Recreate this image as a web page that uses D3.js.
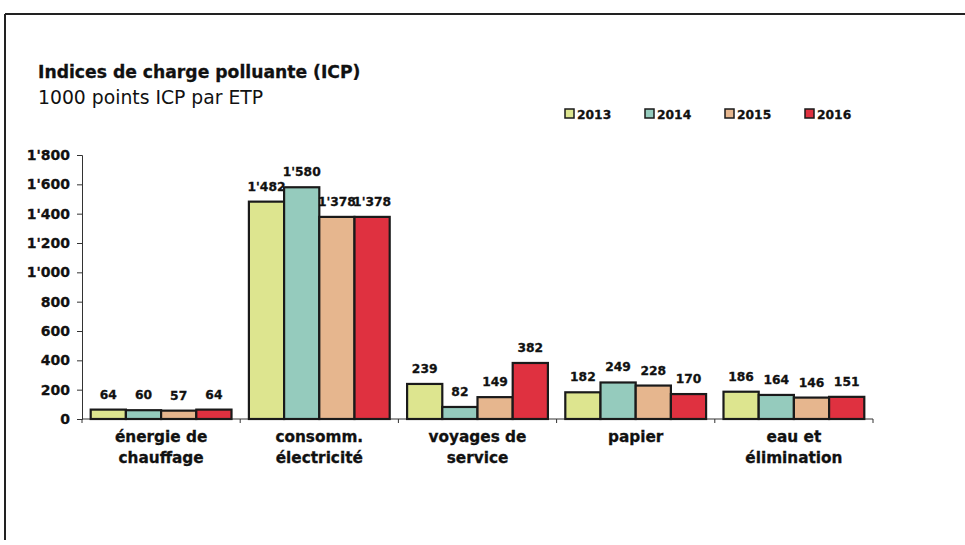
<!DOCTYPE html>
<html>
<head>
<meta charset="utf-8">
<script src="https://cdn.jsdelivr.net/npm/d3@7"></script>
<style>
  body { margin: 0; background: #fff; }
  svg text { font-family: "DejaVu Sans", "Liberation Sans", Arial, sans-serif; fill: #111; }
  svg text.heavy { font-weight: bold; stroke: #111; stroke-width: 0.3px; }
</style>
</head>
<body>
<svg id="chart"></svg>
<script>
// Data
const categories = [["énergie de", "chauffage"], ["consomm.", "électricité"], ["voyages de", "service"], ["papier"], ["eau et", "élimination"]];
const years = ["2013", "2014", "2015", "2016"];
const values2013 = [64, 1482, 239, 182, 186];
const values2014 = [60, 1580, 82, 249, 164];
const values2015 = [57, 1378, 149, 228, 146];
const values2016 = [64, 1378, 382, 170, 151];
const yTicks = [0, 200, 400, 600, 800, 1000, 1200, 1400, 1600, 1800];
const colors = ["#dde58f", "#95cbbd", "#e6b68e", "#df3140"];

const series = [values2013, values2014, values2015, values2016];

const width = 965;
const height = 545;

const svg = d3.select("#chart")
    .attr("width", width)
    .attr("height", height);

// frame lines (top and left)
svg.append("line").attr("x1", 5).attr("x2", 965).attr("y1", 14).attr("y2", 14)
    .attr("stroke", "#222").attr("stroke-width", 2);
svg.append("line").attr("x1", 5).attr("x2", 5).attr("y1", 14).attr("y2", 540)
    .attr("stroke", "#222").attr("stroke-width", 2);

// titles
svg.append("text").attr("class", "heavy").attr("x", 38).attr("y", 78)
    .style("font-size", "17.2px")
    .text("Indices de charge polluante (ICP)");
svg.append("text").attr("x", 38).attr("y", 104)
    .style("font-size", "18.8px")
    .text("1000 points ICP par ETP");

// scales
const x = d3.scaleBand()
    .domain(d3.range(categories.length))
    .range([82, 873])
    .paddingInner(0.11)
    .paddingOuter(0.055);

const x1 = d3.scaleBand()
    .domain(years)
    .range([0, x.bandwidth()]);

const y = d3.scaleLinear()
    .domain([0, 1800])
    .range([419, 155]);

const fmt = d3.formatLocale({ decimal: ".", thousands: "'", grouping: [3], currency: ["", ""] }).format(",");

// y axis
const yAxis = svg.append("g")
    .attr("transform", "translate(82,0)")
    .call(d3.axisLeft(y).tickValues(yTicks).tickFormat(fmt).tickSize(5).tickPadding(7));
yAxis.select(".domain").attr("stroke", "#333");
yAxis.selectAll(".tick line").attr("stroke", "#333");
yAxis.selectAll("text")
    .attr("class", "heavy")
    .style("font-size", "14px")
    .style("font-family", "'DejaVu Sans', Arial, sans-serif").attr("fill", "#111");

// x axis line with ticks at band boundaries
const step = (873 - 82) / categories.length;
svg.append("line").attr("x1", 82).attr("x2", 873).attr("y1", y(0)).attr("y2", y(0))
    .attr("stroke", "#333");
svg.selectAll(".xtick")
    .data(d3.range(categories.length + 1))
    .enter().append("line")
    .attr("x1", d => 82 + d * step).attr("x2", d => 82 + d * step)
    .attr("y1", y(0)).attr("y2", y(0) + 4)
    .attr("stroke", "#333");

// bars
const groups = svg.selectAll(".grp")
    .data(categories)
    .enter().append("g")
    .attr("transform", (d, i) => `translate(${x(i)},0)`);

years.forEach((yr, s) => {
    groups.append("rect")
        .attr("x", x1(yr))
        .attr("y", (d, i) => y(series[s][i]))
        .attr("width", x1.bandwidth())
        .attr("height", (d, i) => y(0) - y(series[s][i]))
        .attr("fill", colors[s])
        .attr("stroke", "#1a1a1a")
        .attr("stroke-width", 2.2);
    groups.append("text")
        .attr("class", "heavy")
        .attr("x", x1(yr) + x1.bandwidth() / 2)
        .attr("y", (d, i) => y(series[s][i]) - 11)
        .attr("text-anchor", "middle")
        .style("font-size", "12.3px")
        .text((d, i) => fmt(series[s][i]));
});

// category labels
groups.append("text")
    .attr("class", "heavy")
    .attr("x", x.bandwidth() / 2)
    .attr("y", 442)
    .attr("text-anchor", "middle")
    .style("font-size", "15.3px")
    .selectAll("tspan")
    .data(d => d)
    .enter().append("tspan")
    .attr("x", x.bandwidth() / 2)
    .attr("dy", (d, i) => i === 0 ? 0 : 21)
    .text(d => d);

// legend
const legend = svg.append("g").attr("transform", "translate(565,109)");
years.forEach((yr, i) => {
    const g = legend.append("g").attr("transform", `translate(${i * 80},0)`);
    g.append("rect").attr("width", 9).attr("height", 9).attr("y", 0)
        .attr("fill", colors[i]).attr("stroke", "#1a1a1a").attr("stroke-width", 1.5);
    g.append("text").attr("class", "heavy").attr("x", 12).attr("y", 10)
        .style("font-size", "12.3px")
        .text(yr);
});
</script>
</body>
</html>
